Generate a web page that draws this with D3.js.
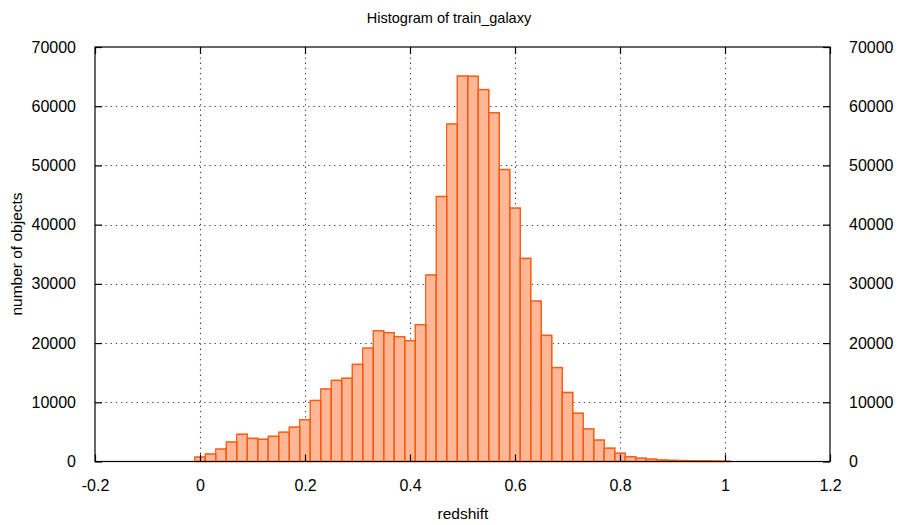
<!DOCTYPE html>
<html>
<head>
<meta charset="utf-8">
<script src="https://cdn.jsdelivr.net/npm/d3@7"></script>
<style>
  html, body { margin: 0; padding: 0; background: #fff; }
  svg { display: block; }
  text { font-family: "Liberation Sans", Arial, Helvetica, sans-serif; fill: #000; }
</style>
</head>
<body>
<svg id="chart" width="898" height="525"></svg>
<script>
// ---- data ----
const binCenters = [0.00,0.02,0.04,0.06,0.08,0.10,0.12,0.14,0.16,0.18,
                    0.20,0.22,0.24,0.26,0.28,0.30,0.32,0.34,0.36,0.38,
                    0.40,0.42,0.44,0.46,0.48,0.50,0.52,0.54,0.56,0.58,
                    0.60,0.62,0.64,0.66,0.68,0.70,0.72,0.74,0.76,0.78,
                    0.80,0.82,0.84,0.86,0.88,0.90,0.92,0.94,0.96,0.98,1.00];
const counts = [750,1270,2100,3300,4600,3900,3750,4250,4950,5800,
                7050,10300,12250,13700,14050,16400,19150,22080,21750,21070,
                20400,23100,31500,44750,57000,65100,65050,62800,58900,49300,
                42800,34300,27100,21300,15850,11650,8150,5500,3620,2250,
                1400,800,560,400,250,190,150,120,100,80,50];
const binWidth = 0.02;
const xTicks = [-0.2, 0, 0.2, 0.4, 0.6, 0.8, 1, 1.2];
const xTickLabels = ["-0.2", "0", "0.2", "0.4", "0.6", "0.8", "1", "1.2"];
const yTicks = [0, 10000, 20000, 30000, 40000, 50000, 60000, 70000];
const title = "Histogram of train_galaxy";
const xLabel = "redshift";
const yLabel = "number of objects";

// ---- layout ----
const L = 95, R = 830, T = 47, B = 461.5;
const svg = d3.select("#chart");
const x = d3.scaleLinear().domain([-0.2, 1.2]).range([L, R]);
const y = d3.scaleLinear().domain([0, 70000]).range([B, T]);
const tickLen = 7;

// grid
const grid = svg.append("g").attr("stroke", "#222").attr("stroke-width", 1.1)
  .attr("stroke-dasharray", "1.3,3.9").attr("opacity", 0.85);
xTicks.slice(1, -1).forEach(v => {
  grid.append("line").attr("x1", Math.round(x(v)) + 0.5).attr("x2", Math.round(x(v)) + 0.5)
    .attr("y1", T).attr("y2", B);
});
yTicks.slice(1, -1).forEach(v => {
  grid.append("line").attr("x1", L).attr("x2", R)
    .attr("y1", Math.round(y(v)) + 0.5).attr("y2", Math.round(y(v)) + 0.5);
});

// bars
const bars = svg.append("g");
const data = binCenters.map((c, i) => ({ c, v: counts[i] }));
bars.selectAll("rect.fill").data(data).join("rect")
  .attr("class", "fill")
  .attr("x", d => x(d.c - binWidth / 2) + 0.8)
  .attr("y", d => y(d.v) - 0.8)
  .attr("width", d => x(d.c + binWidth / 2) - x(d.c - binWidth / 2))
  .attr("height", d => B - y(d.v) + 0.8)
  .attr("fill", "#ffb795");
bars.selectAll("rect.edge").data(data).join("rect")
  .attr("class", "edge")
  .attr("x", d => x(d.c - binWidth / 2))
  .attr("y", d => y(d.v))
  .attr("width", d => x(d.c + binWidth / 2) - x(d.c - binWidth / 2))
  .attr("height", d => B - y(d.v))
  .attr("fill", "none").attr("stroke", "#ff5a10").attr("stroke-width", 1.4);

// frame
svg.append("rect").attr("x", L).attr("y", T).attr("width", R - L).attr("height", B - T)
  .attr("fill", "none").attr("stroke", "#000").attr("stroke-width", 1.2);

// axes using d3 axis generators (inward ticks, mirrored)
const fmtX = d => xTickLabels[xTicks.indexOf(d)];
const axB = svg.append("g").attr("transform", `translate(0,${B})`)
  .call(d3.axisBottom(x).tickValues(xTicks).tickSizeInner(-tickLen).tickSizeOuter(0).tickPadding(tickLen + 11).tickFormat(fmtX));
const axT = svg.append("g").attr("transform", `translate(0,${T})`)
  .call(d3.axisTop(x).tickValues(xTicks).tickSizeInner(-tickLen).tickSizeOuter(0).tickFormat(""));
const axL = svg.append("g").attr("transform", `translate(${L},0)`)
  .call(d3.axisLeft(y).tickValues(yTicks).tickSizeInner(-tickLen).tickSizeOuter(0).tickPadding(tickLen + 12).tickFormat(d3.format("d")));
const axR = svg.append("g").attr("transform", `translate(${R},0)`)
  .call(d3.axisRight(y).tickValues(yTicks).tickSizeInner(-tickLen).tickSizeOuter(0).tickPadding(tickLen + 12).tickFormat(d3.format("d")));
[axB, axT, axL, axR].forEach(a => {
  a.select(".domain").remove();
  a.selectAll(".tick line").attr("stroke", "#000").attr("stroke-width", 1.2);
  a.selectAll("text").attr("font-size", 16).attr("fill", "#000")
    .attr("font-family", '"Liberation Sans", Arial, Helvetica, sans-serif');
});

// titles
svg.append("text").attr("x", 449).attr("y", 23).attr("text-anchor", "middle")
  .attr("font-size", 14.5).text(title);
svg.append("text").attr("x", 463).attr("y", 519).attr("text-anchor", "middle")
  .attr("font-size", 15.5).text(xLabel);
svg.append("text").attr("transform", "translate(22,254) rotate(-90)").attr("text-anchor", "middle")
  .attr("font-size", 15.5).text(yLabel);
</script>
</body>
</html>
